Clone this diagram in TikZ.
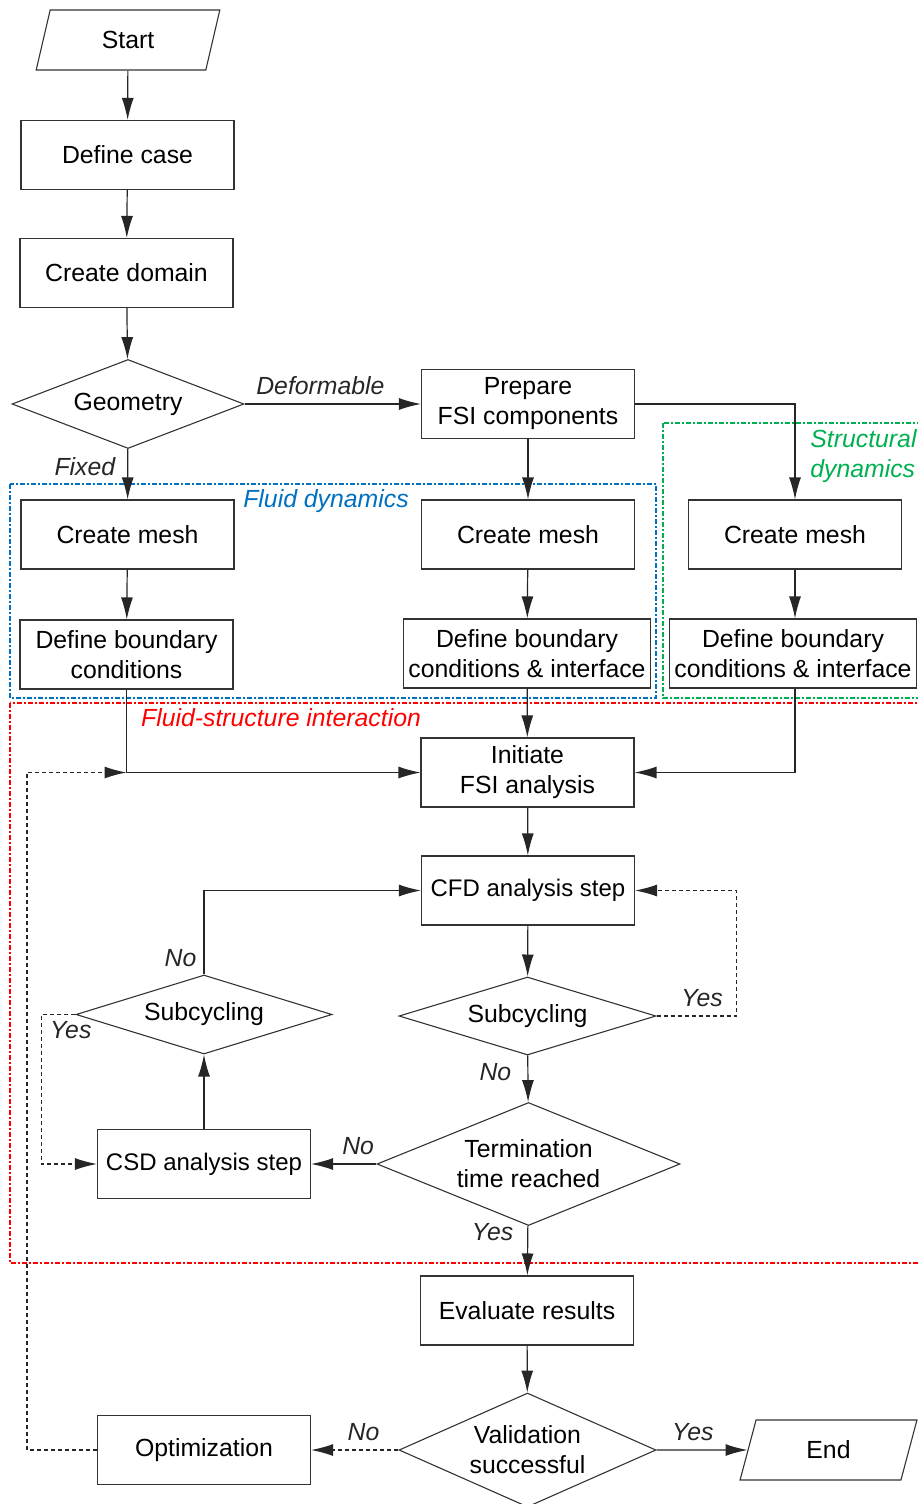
\documentclass[tikz,border=0pt]{standalone}
\usepackage{fontspec}
\setmainfont{Liberation Sans}
\usetikzlibrary{shapes.geometric,arrows.meta}
\definecolor{fdblue}{RGB}{0,112,192}
\definecolor{sdgreen}{RGB}{0,176,80}
\definecolor{fsired}{RGB}{255,0,0}

\begin{document}
\begin{tikzpicture}[x=0.5pt, y=-0.5pt,
  txt/.style={font=\fontsize{12.4}{15}\selectfont},
  box/.style={draw=black!80, line width=0.55pt, txt, minimum width=106.5pt,
              minimum height=34.5pt, inner sep=0pt, align=center},
  wbox/.style={box, minimum width=123.5pt},
  dec/.style={diamond, draw=black!80, line width=0.55pt, txt, inner sep=0pt, align=center},
  io/.style={trapezium, trapezium left angle=75, trapezium right angle=105,
             trapezium stretches=true, draw=black!80, line width=0.55pt, txt, inner sep=0pt},
  arr/.style={-{Latex[length=11pt,width=6pt]}, black!85, line width=0.6pt},
  dsh/.style={dash pattern=on 2pt off 1.5pt},
  lbl/.style={font=\fontsize{12.4}{15}\selectfont\itshape, inner sep=1pt, black!85},
  grp/.style={line width=0.65pt, dash pattern=on 2.5pt off 1.2pt on 0.6pt off 1.2pt}]
\useasboundingbox (0,0) rectangle (917,1504);

\draw[grp, fdblue] (10,484) rectangle (656,698);
\draw[grp, sdgreen] (663,423) rectangle (930,698);
\draw[grp, fsired] (10,703) rectangle (930,1263);
\node[lbl, fdblue] (fdlbl) at (326,501) {Fluid dynamics};
\node[lbl, sdgreen, anchor=west, align=left] (sdlbl) at (808,456) {Structural\\dynamics};
\node[lbl, fsired] (fsilbl) at (281,718) {Fluid-structure interaction};

\node[io, minimum width=92pt, minimum height=30pt] (start) at (128,40) {Start};
\node[box] (dcase) at (127.5,155) {Define case};
\node[box] (cdom) at (126.5,273) {Create domain};
\node[dec, minimum width=116pt, minimum height=44.5pt, aspect=2.6] (geom) at (128,404) {Geometry};
\node[box] (prep) at (528,404) {Prepare\\FSI components};
\node[box] (mesha) at (127.5,534.5) {Create mesh};
\node[box] (meshb) at (528,534.5) {Create mesh};
\node[box] (meshc) at (795,534.5) {Create mesh};
\node[box] (bca) at (126.5,654.5) {Define boundary\\conditions};
\node[wbox] (bcb) at (527,653.5) {Define boundary\\conditions \& interface};
\node[wbox] (bcc) at (793,653.5) {Define boundary\\conditions \& interface};
\node[box] (init) at (527.5,772.5) {Initiate\\FSI analysis};
\node[box, font=\fontsize{12}{15}\selectfont] (cfd) at (528,890.5) {CFD analysis step};
\node[dec, minimum width=128.5pt, minimum height=39pt, aspect=3.3] (subf) at (527.5,1016) {Subcycling};
\node[dec, minimum width=128pt, minimum height=39.5pt, aspect=3.3] (subs) at (204,1014.5) {Subcycling};
\node[dec, minimum width=151.5pt, minimum height=61.5pt, aspect=2.46] (term) at (528.5,1164) {Termination\\time reached};
\node[box, font=\fontsize{12}{15}\selectfont] (csd) at (204,1164) {CSD analysis step};
\node[box] (eval) at (527,1310.5) {Evaluate results};
\node[dec, minimum width=128.5pt, minimum height=57pt, aspect=2.25] (valid) at (527.5,1450) {Validation\\successful};
\node[box] (opt) at (204,1450) {Optimization};
\node[io, minimum width=88.5pt, minimum height=30pt] (end) at (828.5,1450) {End};

\coordinate (join) at (bca |- init);
\draw[arr] (start) -- (dcase);
\draw[arr] (dcase) -- (cdom);
\draw[arr] (cdom) -- (geom);
\draw[arr] (geom) -- node[lbl, above=3.5pt, pos=.43] {Deformable} (prep);
\draw[arr] (geom) -- node[lbl, left=5pt, pos=.34] {Fixed} (mesha);
\draw[arr] (prep) -- (meshb);
\draw[arr] (prep.east) -| (meshc);
\draw[arr] (mesha) -- (bca);
\draw[arr] (meshb) -- (bcb);
\draw[arr] (meshc) -- (meshc |- bcc.north);
\draw[arr] (bca) |- (init);
\draw[arr] (bcb) -- (init);
\draw[arr] (meshc |- bcc.south) |- (init);
\draw[arr] (init) -- (cfd);
\draw[arr] (cfd) -- (subf);
\draw[arr, dsh] (subf.east) -- node[lbl, above=3.5pt, pos=.57] {Yes} ++(80,0) |- (cfd.east);
\draw[arr] (subf) -- node[lbl, left=7pt, pos=.35] {No} (term);
\draw[arr] (term) -- node[lbl, above=3.5pt, pos=.28] {No} (csd);
\draw[arr] (term) -- node[lbl, left=6pt, pos=.13] {Yes} (eval);
\draw[arr] (csd) -- (subs);
\draw[arr] (subs.north) |- node[lbl, left=2.5pt, pos=.1] {No} (cfd.west);
\draw[arr, dsh] (subs.west) -- ++(-34,0) node[lbl, anchor=north west, xshift=3pt, yshift=-2pt] {Yes} |- (csd.west);
\draw[arr] (eval) -- (valid);
\draw[arr] (valid) -- node[lbl, above=3.5pt, pos=.4] {Yes} (end);
\draw[arr, dsh] (valid) -- node[lbl, above=3.5pt, pos=.4] {No} (opt);
\draw[arr, dsh] (opt.west) -- ++(-70,0) |- (join);
\end{tikzpicture}
\end{document}
